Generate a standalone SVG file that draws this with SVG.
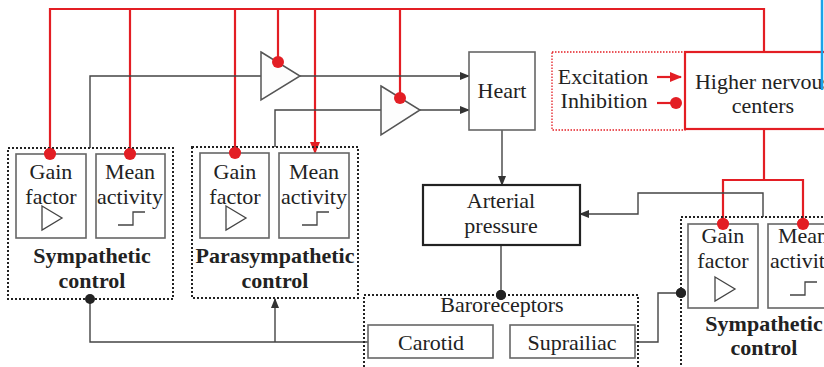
<svg xmlns="http://www.w3.org/2000/svg" width="824" height="367" viewBox="0 0 824 367">
<defs>
<marker id="ah" markerWidth="10" markerHeight="10" refX="9" refY="5" orient="auto" markerUnits="userSpaceOnUse"><path d="M0,1 L10,5 L0,9 Z" fill="#333"/></marker>
<marker id="rah" markerWidth="12" markerHeight="12" refX="11" refY="6" orient="auto" markerUnits="userSpaceOnUse"><path d="M0,1 L12,6 L0,11 Z" fill="#e31e24"/></marker>
</defs>
<style>
text{font-family:"Liberation Serif","Times New Roman",serif;fill:#222;font-size:22px;text-anchor:middle}
.b{font-weight:bold}
.box{fill:#fff;stroke:#666;stroke-width:1.6}
.dot{fill:none;stroke:#222;stroke-width:2;stroke-dasharray:2 2}
.g{fill:none;stroke:#444;stroke-width:1.4}
.r{fill:none;stroke:#e31e24;stroke-width:2.2}
.rd{fill:#e31e24}
.kd{fill:#222}
.amp{fill:#fdfdfd;stroke:#555;stroke-width:1.5}
</style>
<rect width="824" height="367" fill="#fff"/>

<g id="connectors">
  <!-- red top bus -->
  <polyline class="r" points="50,154 50,9 764,9 764,52"/>
  <line class="r" x1="130" y1="9" x2="130" y2="154"/>
  <line class="r" x1="235" y1="9" x2="235" y2="153"/>
  <line class="r" x1="278" y1="9" x2="278" y2="62"/>
  <line class="r" x1="315" y1="9" x2="315" y2="153" marker-end="url(#rah)"/>
  <line class="r" x1="400" y1="9" x2="400" y2="98"/>
  <!-- red to right sympathetic -->
  <polyline class="r" points="764,129 764,180"/>
  <polyline class="r" points="723,224 723,180 803,180 803,224"/>
  <!-- gray signal lines -->
  <polyline class="g" points="90,148 90,76 261,76"/>
  <line class="g" x1="300" y1="76" x2="469" y2="76" marker-end="url(#ah)"/>
  <polyline class="g" points="275,147 275,110 381,110"/>
  <line class="g" x1="420" y1="110" x2="469" y2="110" marker-end="url(#ah)"/>
  <line class="g" x1="502" y1="130" x2="502" y2="185" marker-end="url(#ah)"/>
  <line class="g" x1="501" y1="245" x2="501" y2="295"/>
  <polyline class="g" points="763,217 763,193 638,193 638,214 580,214" marker-end="url(#ah)"/>
  <polyline class="g" points="368,342 90,342 90,299"/>
  <line class="g" x1="275" y1="342" x2="275" y2="299" marker-end="url(#ah)"/>
  <polyline class="g" points="635,342 658,342 658,293 681,293"/>
  <!-- dots -->
  <circle class="rd" cx="50" cy="154" r="6"/>
  <circle class="rd" cx="130" cy="154" r="6"/>
  <circle class="rd" cx="235" cy="153" r="6"/>
  <circle class="rd" cx="723" cy="224" r="6"/>
  <circle class="rd" cx="803" cy="224" r="6"/>
  <circle class="kd" cx="90" cy="299" r="5"/>
  <circle class="kd" cx="501" cy="295" r="5"/>
  <circle class="kd" cx="681" cy="293" r="5"/>
</g>

<g id="amp1">
  <polygon class="amp" points="261,52 300,76 261,100"/>
  <circle class="rd" cx="278" cy="62" r="6"/>
</g>
<g id="amp2">
  <polygon class="amp" points="381,86 420,110 381,135"/>
  <circle class="rd" cx="400" cy="98" r="6"/>
</g>

<g id="heart">
  <rect class="box" x="469" y="52" width="66" height="78"/>
  <text x="502" y="98">Heart</text>
</g>

<g id="arterial">
  <rect x="423" y="185" width="157" height="60" fill="#fff" stroke="#222" stroke-width="2.2"/>
  <text x="501" y="208">Arterial</text>
  <text x="501" y="233">pressure</text>
</g>

<g id="legend">
  <rect x="552" y="52" width="133" height="78" fill="none" stroke="#e31e24" stroke-width="1.3" stroke-dasharray="1.5 1.5"/>
  <text x="603" y="84">Excitation</text>
  <text x="604" y="108">Inhibition</text>
  <line class="r" x1="657" y1="77" x2="681" y2="77" marker-end="url(#rah)"/>
  <line class="r" x1="657" y1="103" x2="676" y2="103"/>
  <circle class="rd" cx="676" cy="103" r="6"/>
</g>

<g id="higher">
  <rect x="685" y="52" width="150" height="77" fill="#fff" stroke="#e31e24" stroke-width="2.2"/>
  <text x="763" y="89">Higher nervous</text>
  <text x="763" y="113">centers</text>
</g>

<g id="symp-left">
  <rect class="dot" x="8" y="148" width="165" height="151"/>
  <rect class="box" x="16" y="154" width="70" height="84"/>
  <text x="51" y="179">Gain</text>
  <text x="51" y="204">factor</text>
  <polygon points="42,206 62,218 42,230" fill="none" stroke="#444" stroke-width="1.3"/>
  <rect class="box" x="96" y="154" width="69" height="84"/>
  <text x="130" y="179">Mean</text>
  <text x="130" y="204">activity</text>
  <polyline points="118,225 133,225 133,212 145,212" fill="none" stroke="#444" stroke-width="1.3"/>
  <text class="b" x="92" y="263">Sympathetic</text>
  <text class="b" x="92" y="288">control</text>
  <circle class="rd" cx="50" cy="154" r="6"/>
  <circle class="rd" cx="130" cy="154" r="6"/>
</g>

<g id="parasymp">
  <rect class="dot" x="192" y="147" width="166" height="151"/>
  <rect class="box" x="200" y="153" width="69" height="85"/>
  <text x="235" y="179">Gain</text>
  <text x="235" y="204">factor</text>
  <polygon points="226,206 246,218 226,230" fill="none" stroke="#444" stroke-width="1.3"/>
  <rect class="box" x="279" y="153" width="70" height="85"/>
  <text x="314" y="179">Mean</text>
  <text x="314" y="204">activity</text>
  <polyline points="302,225 317,225 317,212 329,212" fill="none" stroke="#444" stroke-width="1.3"/>
  <text class="b" x="275" y="263">Parasympathetic</text>
  <text class="b" x="275" y="288">control</text>
  <circle class="rd" cx="235" cy="153" r="6"/>
</g>

<g id="baroreceptors">
  <rect class="dot" x="364" y="295" width="274" height="90"/>
  <text x="502" y="312">Baroreceptors</text>
  <circle class="kd" cx="501" cy="295" r="5"/>
</g>
<g id="carotid">
  <rect class="box" x="368" y="325" width="125" height="33"/>
  <text x="431" y="350">Carotid</text>
</g>
<g id="suprailiac">
  <rect class="box" x="510" y="325" width="125" height="33"/>
  <text x="572" y="350">Suprailiac</text>
</g>

<g id="symp-right">
  <rect class="dot" x="681" y="217" width="170" height="160"/>
  <rect class="box" x="688" y="224" width="70" height="84"/>
  <text x="723" y="243">Gain</text>
  <text x="723" y="268">factor</text>
  <polygon points="715,277 735,289 715,301" fill="none" stroke="#444" stroke-width="1.3"/>
  <rect class="box" x="768" y="224" width="70" height="84"/>
  <text x="803" y="243">Mean</text>
  <text x="803" y="268">activity</text>
  <polyline points="790,295 805,295 805,282 817,282" fill="none" stroke="#444" stroke-width="1.3"/>
  <text class="b" x="764" y="331">Sympathetic</text>
  <text class="b" x="764" y="355">control</text>
  <circle class="rd" cx="723" cy="224" r="6"/>
  <circle class="rd" cx="803" cy="224" r="6"/>
  <circle class="kd" cx="681" cy="293" r="5"/>
</g>

<line x1="822" y1="0" x2="822" y2="90" stroke="#1aa3e8" stroke-width="2.5"/>
</svg>
